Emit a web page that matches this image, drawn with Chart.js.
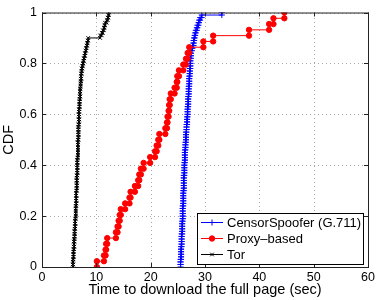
<!DOCTYPE html>
<html>
<head>
<meta charset="utf-8">
<script src="https://cdn.jsdelivr.net/npm/chart.js@4.4.0/dist/chart.umd.min.js"></script>
<style>
    html, body { margin: 0; padding: 0; background: #fff; }
</style>
</head>
<body>
<canvas id="cdf" width="378" height="300"></canvas>
<script>
// download times (sec), sorted
const censorTimes = [
    25.5, 25.5, 25.5, 25.6, 25.6, 25.6, 25.6, 25.6, 25.7, 25.7,
    25.7, 25.7, 25.7, 25.8, 25.8, 25.8, 25.8, 25.8, 25.9, 25.9,
    25.9, 25.9, 25.9, 25.9, 26.0, 26.0, 26.0, 26.0, 26.0, 26.0,
    26.1, 26.1, 26.1, 26.1, 26.1, 26.1, 26.2, 26.2, 26.2, 26.2,
    26.2, 26.3, 26.3, 26.3, 26.3, 26.3, 26.4, 26.4, 26.4, 26.5,
    26.5, 26.5, 26.5, 26.6, 26.6, 26.6, 26.7, 26.7, 26.7, 26.8,
    26.8, 26.8, 26.8, 26.9, 26.9, 26.9, 26.9, 27.0, 27.0, 27.0,
    27.0, 27.1, 27.1, 27.1, 27.1, 27.2, 27.2, 27.2, 27.3, 27.3,
    27.3, 27.3, 27.4, 27.4, 27.4, 27.6, 27.7, 27.9, 27.9, 28.0,
    28.1, 28.2, 28.3, 28.5, 28.6, 28.8, 28.9, 29.1, 29.4, 33.1,
]
const proxyTimes = [
    10.1, 11.4, 11.7, 11.8, 12.0, 13.6, 13.9, 14.1, 14.3, 14.5,
    15.3, 16.1, 16.3, 17.1, 17.7, 17.9, 18.2, 18.7, 19.9, 20.8,
    21.1, 21.4, 21.6, 22.7, 23.0, 23.1, 23.3, 23.4, 23.5, 23.7,
    24.4, 24.8, 24.9, 25.2, 26.0, 26.5, 26.8, 27.1, 29.7, 31.5,
    38.1, 41.8, 42.6, 44.6,
]
const torTimes = [
    5.7, 5.7, 5.7, 5.8, 5.8, 5.8, 5.8, 5.9, 5.9, 5.9,
    5.9, 6.0, 6.0, 6.0, 6.0, 6.1, 6.1, 6.1, 6.1, 6.2,
    6.2, 6.2, 6.2, 6.2, 6.3, 6.3, 6.3, 6.3, 6.3, 6.3,
    6.4, 6.4, 6.4, 6.4, 6.4, 6.4, 6.5, 6.5, 6.5, 6.5,
    6.5, 6.5, 6.5, 6.6, 6.6, 6.6, 6.6, 6.6, 6.6, 6.6,
    6.7, 6.7, 6.7, 6.7, 6.7, 6.7, 6.8, 6.8, 6.8, 6.8,
    6.8, 6.8, 6.9, 6.9, 6.9, 6.9, 7.0, 7.0, 7.0, 7.0,
    7.1, 7.1, 7.1, 7.2, 7.2, 7.2, 7.3, 7.3, 7.4, 7.5,
    7.6, 7.7, 7.8, 7.9, 8.0, 8.1, 8.2, 8.3, 8.4, 8.5,
    10.7, 11.0, 11.2, 11.4, 11.5, 11.6, 11.9, 12.1, 12.2, 12.3,
]
const seriesNames = ['CensorSpoofer (G.711)', 'Proxy\u2013based', 'Tor']
const xTicks = [0, 10, 20, 30, 40, 50, 60]
const yTicks = [0, 0.2, 0.4, 0.6, 0.8, 1]

const FONT = "'Liberation Sans', Arial, sans-serif"

// empirical cdf as a staircase, marker on every corner (like matlab cdfplot)
function stairs(times) {
    const n = times.length,
        pts = []
    times.forEach((t, i) => {
        pts.push({ x: t, y: i / n })
        pts.push({ x: t, y: (i + 1) / n })
    })
    return pts
}

const frame = {
    id: 'frame',
    beforeDatasetsDraw(chart) {
        // dotted matlab style grid
        const { ctx, chartArea: a, scales } = chart
        ctx.save()
        ctx.strokeStyle = '#a8a8a8'
        ctx.lineWidth = 1
        ctx.setLineDash([1, 3])
        ctx.beginPath()
        xTicks.forEach((v) => {
            const px = Math.round(scales.x.getPixelForValue(v)) + 0.5
            ctx.moveTo(px, a.bottom); ctx.lineTo(px, a.top)
        })
        yTicks.forEach((v) => {
            const py = Math.round(scales.y.getPixelForValue(v)) + 0.5
            ctx.moveTo(a.left, py); ctx.lineTo(a.right, py)
        })
        ctx.stroke()
        ctx.restore()
    },
    afterDraw(chart) {
        const { ctx, chartArea: a, scales } = chart
        ctx.save()
        ctx.strokeStyle = '#222'
        ctx.lineWidth = 1
        ctx.strokeRect(a.left + 0.5, a.top + 0.5, a.right - a.left, a.bottom - a.top)
        ctx.beginPath()
        xTicks.forEach((v) => {
            const px = Math.round(scales.x.getPixelForValue(v)) + 0.5
            ctx.moveTo(px, a.bottom); ctx.lineTo(px, a.bottom - 4)
            ctx.moveTo(px, a.top); ctx.lineTo(px, a.top + 4)
        })
        yTicks.forEach((v) => {
            const py = Math.round(scales.y.getPixelForValue(v)) + 0.5
            ctx.moveTo(a.left, py); ctx.lineTo(a.left + 4, py)
            ctx.moveTo(a.right, py); ctx.lineTo(a.right - 4, py)
        })
        ctx.stroke()

        // legend box
        const bx = 197.5, by = 213.5, bw = 166, bh = 51
        ctx.fillStyle = '#fff'
        ctx.fillRect(bx, by, bw, bh)
        ctx.strokeStyle = '#000'
        ctx.strokeRect(bx, by, bw, bh)
        chart.data.datasets.forEach((ds, i) => {
            const y = 222 + i * 16
            ctx.strokeStyle = ds.borderColor
            ctx.fillStyle = ds.backgroundColor
            ctx.lineWidth = 1
            ctx.beginPath()
            ctx.moveTo(201, y + 0.5); ctx.lineTo(223, y + 0.5)
            ctx.stroke()
            Chart.helpers.drawPoint(ctx, {
                pointStyle: ds.pointStyle, radius: ds.pointRadius, borderWidth: 1,
            }, 212, y + 0.5)
            ctx.fillStyle = '#000'
            ctx.font = '13px ' + FONT
            ctx.textBaseline = 'middle'
            ctx.fillText(ds.label, 227, y + 1)
        })
        ctx.restore()
    },
}

function series(label, times, color, style, radius, order) {
    return {
        label: label,
        data: stairs(times),
        showLine: true,
        borderColor: color,
        backgroundColor: color,
        borderWidth: 1,
        pointStyle: style,
        pointRadius: radius,
        pointBorderColor: color,
        pointBackgroundColor: color,
        pointBorderWidth: 1,
        order: order,
    }
}

const noGrid = { display: false, drawTicks: false }
const noBorder = { display: false }

const chartID = document.getElementById('cdf')
new Chart(chartID, {
    type: 'scatter',
    data: {
        datasets: [
            series(seriesNames[0], censorTimes, '#0000ff', 'cross', 3, 3),
            series(seriesNames[1], proxyTimes, '#ff0000', 'circle', 2.7, 2),
            series(seriesNames[2], torTimes, '#000000', 'crossRot', 2.5, 1),
        ],
    },
    options: {
        responsive: false,
        animation: false,
        layout: { padding: { top: 9, right: 10, left: 0, bottom: 0 } },
        plugins: { legend: { display: false }, tooltip: { enabled: false } },
        scales: {
            x: {
                type: 'linear',
                min: 0,
                max: 60,
                afterBuildTicks: (s) => { s.ticks = xTicks.map((v) => ({ value: v })) },
                ticks: { color: '#000', font: { family: FONT, size: 12.5 }, padding: 3, maxRotation: 0 },
                grid: noGrid,
                border: noBorder,
                title: {
                    display: true,
                    text: 'Time to download the full page (sec)',
                    color: '#000',
                    font: { family: FONT, size: 14.5 },
                    padding: { top: 0, bottom: 1 },
                },
                afterFit: (s) => { s.height = 33 },
            },
            y: {
                type: 'linear',
                min: 0,
                max: 1,
                afterBuildTicks: (s) => { s.ticks = yTicks.map((v) => ({ value: v })) },
                ticks: {
                    color: '#000', font: { family: FONT, size: 12.5 }, padding: 5,
                    callback: (v) => String(Math.round(v * 10) / 10),
                },
                grid: noGrid,
                border: noBorder,
                title: {
                    display: true,
                    text: 'CDF',
                    color: '#000',
                    font: { family: FONT, size: 14.5 },
                    padding: { top: 0, bottom: 0 },
                },
                afterFit: (s) => { s.width = 42 },
            },
        },
    },
    plugins: [frame],
})
</script>
</body>
</html>
